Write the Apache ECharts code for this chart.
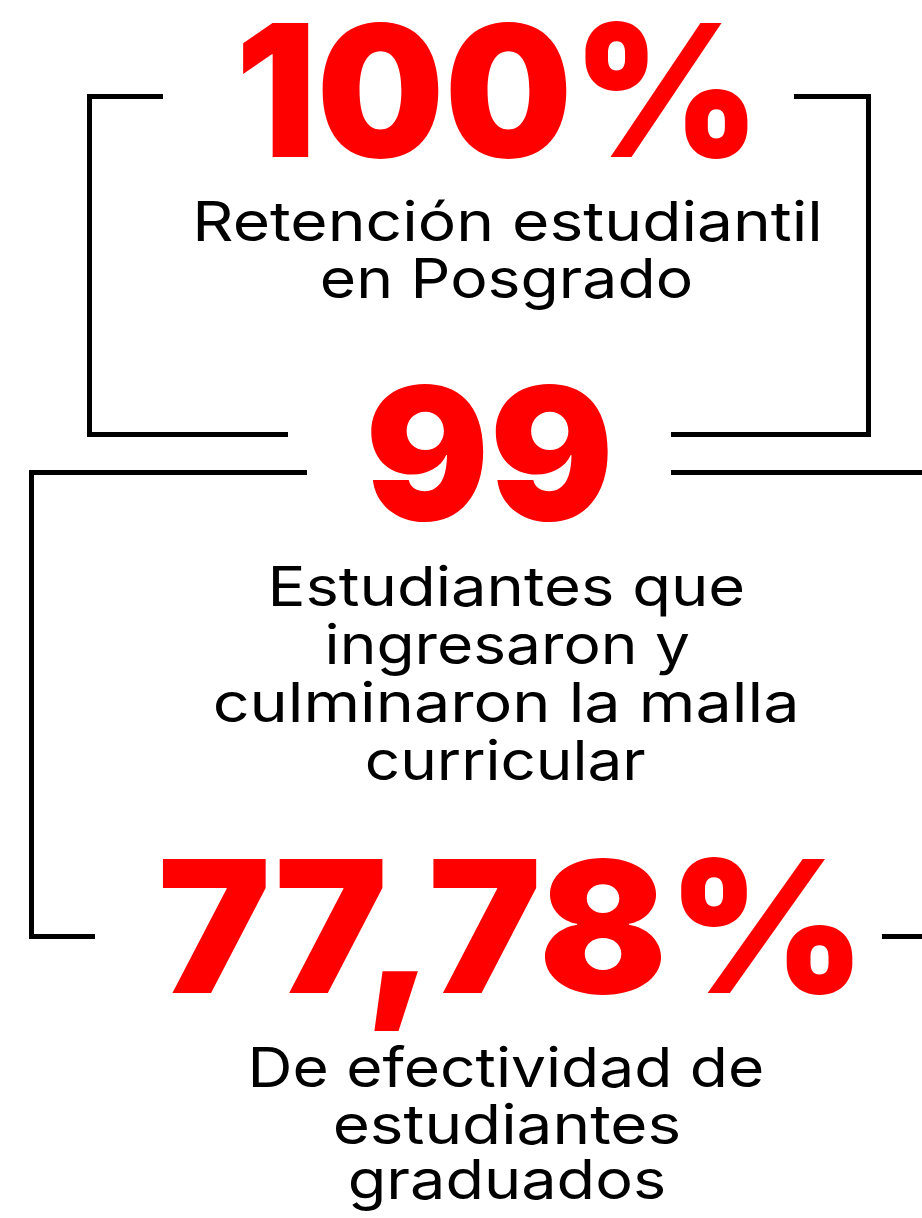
<!DOCTYPE html>
<html>
<head>
<meta charset="utf-8">
<script src="https://cdn.jsdelivr.net/npm/echarts@6/dist/echarts.min.js"></script>
<style>
    html, body { margin: 0; padding: 0; background: #fff; }
    #main { width: 922px; height: 1218px; }
</style>
</head>
<body>
<div id="main"></div>
<script>
// data
const statValues = ["100%", "99", "77,78%"];
const statLabels = [
    ["Retención estudiantil", "en Posgrado"],
    ["Estudiantes que", "ingresaron y", "culminaron la malla", "curricular"],
    ["De efectividad de", "estudiantes", "graduados"],
];

// layout: [inkLeft, inkRight, baseline] per text line
const valueBoxes = [[243, 748, 157], [371, 608, 520], [163, 853, 993]];
const labelBoxes = [
    [[197, 819, 241], [322, 691, 298]],
    [[272, 743, 606], [328, 689, 664], [215, 795, 722], [367, 645, 780]],
    [[252, 762, 1087], [335, 679, 1144], [350, 664, 1199]],
];
const brackets = [
    [[163, 96.5], [89.5, 96.5], [89.5, 434.5], [288, 434.5]],
    [[794, 96.5], [868.5, 96.5], [868.5, 434.5], [671, 434.5]],
    [[307, 472.5], [31.5, 472.5], [31.5, 936.5], [95, 936.5]],
    [[671, 472.5], [930, 472.5]],
    [[882, 936.5], [930, 936.5]],
];

const RED = "#ff0000";
const numFont = { family: "Inter", weight: 900, cap: 134 };
const bodyFont = { family: "Inter", weight: 400, cap: 40 };

const ctx = document.createElement("canvas").getContext("2d");

// size the font from cap height, stretch horizontally to the ink box
function fitText(text, f, box, color) {
    ctx.textAlign = "left";
    ctx.textBaseline = "middle";
    ctx.font = f.weight + " 100px " + f.family;
    let h = ctx.measureText("H");
    let size = f.cap / ((h.actualBoundingBoxAscent + h.actualBoundingBoxDescent) / 100);
    let font = f.weight + " " + size.toFixed(2) + "px " + f.family;
    ctx.font = font;
    let hm = ctx.measureText("H");
    let m = ctx.measureText(text);
    let ink = m.actualBoundingBoxLeft + m.actualBoundingBoxRight;
    let sx = (box[1] - box[0]) / ink;
    return {
        type: "text",
        x: box[0] + sx * m.actualBoundingBoxLeft,
        y: box[2] - hm.actualBoundingBoxDescent,
        scaleX: sx,
        silent: true,
        style: {
            text: text,
            font: font,
            fill: color,
            align: "left",
            verticalAlign: "middle",
            textAlign: "left",
            textVerticalAlign: "middle",
        },
    };
}

let elements = [];
brackets.forEach((pts) => {
    elements.push({
        type: "polyline",
        silent: true,
        shape: { points: pts },
        style: { stroke: "#000", lineWidth: 5, fill: null, lineJoin: "miter", lineCap: "butt" },
    });
});
statValues.forEach((v, i) => {
    elements.push(fitText(v, numFont, valueBoxes[i], RED));
    statLabels[i].forEach((line, j) => {
        elements.push(fitText(line, bodyFont, labelBoxes[i][j], "#000"));
    });
});

let chart = echarts.init(document.getElementById("main"), null, { renderer: "canvas" });
chart.setOption({
    backgroundColor: "#fff",
    animation: false,
    graphic: { elements: elements },
});
</script>
</body>
</html>
